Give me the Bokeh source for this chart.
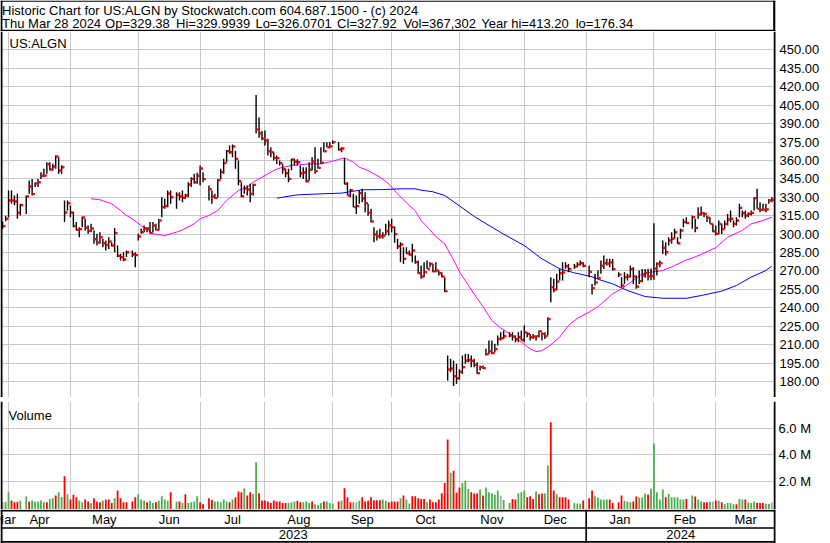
import numpy as np
import pandas as pd
from bokeh.plotting import figure
from bokeh.layouts import column
from bokeh.models import (Range1d, LinearAxis, FixedTicker, Span, Label,
                          ColumnDataSource, NumeralTickFormatter, PrintfTickFormatter)
from bokeh.transform import dodge
from bokeh.core.properties import value
from bokeh.embed import file_html
from bokeh.resources import INLINE

FONT = "Liberation Sans"

# ---------------------------------------------------------------- data
first_day, last_day = "2023-03-29", "2024-03-28"
holidays = ["2023-04-07", "2023-05-29", "2023-06-19", "2023-07-04", "2023-09-04",
            "2023-11-23", "2023-12-25", "2024-01-01", "2024-01-15", "2024-02-19"]

high = [
    310.3, 315.0, 335.5,
    335.5, 331.5, 332.8, 324.7, 331.5, 343.7, 345.0, 342.3, 345.0, 350.5, 353.2, 358.6, 358.6, 357.3, 364.0, 362.7, 356.0, 327.4, 327.4,
    323.3, 318.0, 309.8, 305.7, 314.4, 312.5, 307.0, 308.4, 303.0, 300.3, 301.6, 296.2, 294.8, 297.5, 293.5, 305.1, 290.7, 284.0, 285.3, 286.7, 286.7, 285.3,
    300.3, 304.3, 307.0, 305.7, 309.8, 309.8, 308.4, 312.5, 330.1, 328.8, 335.5, 335.5, 334.2, 334.2, 335.5, 332.8, 342.3, 346.4, 349.1, 350.0, 355.9,
    350.5, 339.6, 335.5, 332.8, 345.0, 353.2, 361.3, 368.6, 372.2, 373.0, 368.0, 360.0, 342.3, 339.6, 339.6, 341.0, 341.0, 413.2, 395.0, 384.0,
    384.4, 377.6, 370.8, 366.7, 364.0, 360.0, 357.2, 353.2, 353.2, 361.3, 361.3, 361.0, 355.9, 354.5, 354.5, 358.6, 362.7, 370.8, 361.3, 370.8, 374.9, 374.9, 374.9,
    376.3, 374.9, 370.8, 362.1, 342.3, 336.9, 332.8, 331.5, 335.5, 336.9, 334.2, 324.7, 320.6, 305.7, 303.0, 304.3, 301.6, 308.4, 311.1, 312.5,
    306.0, 296.2, 293.5, 289.4, 289.4, 286.7, 292.1, 282.6, 278.5, 274.5, 277.2, 278.5, 277.2, 275.8, 277.2, 270.4, 269.0, 265.0, 201.2, 198.5, 197.1, 194.4,
    190.0, 201.2, 202.5, 202.5, 201.2, 198.5, 195.7, 193.0, 193.0, 206.6, 213.4, 213.4, 210.7, 217.5, 220.2, 221.5, 220.2, 220.2, 217.5, 220.2, 221.5,
    225.6, 220.2, 218.8, 218.8, 217.5, 221.5, 220.2, 220.2, 232.4, 265.0, 263.6, 267.7, 271.8, 277.2, 277.2, 275.8, 275.8, 277.2, 278.5, 277.2,
    274.4, 259.5, 267.7, 270.4, 278.5, 282.6, 279.9, 279.9, 279.9, 269.0, 265.0, 269.0, 267.7, 274.4, 273.1, 266.3, 270.4, 271.7, 271.7, 271.8, 272.0,
    308.9, 277.2, 278.5, 294.8, 293.5, 297.5, 301.6, 304.3, 297.5, 304.3, 312.5, 313.8, 315.2, 312.5, 322.0, 322.5, 317.9, 315.2, 313.8, 308.4,
    307.0, 311.1, 308.4, 311.1, 316.5, 319.2, 311.1, 313.8, 324.7, 319.2, 319.2, 317.9, 319.2, 330.1, 336.9, 326.0, 324.7, 324.7, 328.7, 329.99,
]
low = [
    304.3, 310.6, 313.8,
    324.7, 323.6, 312.5, 315.2, 316.5, 332.8, 331.5, 338.3, 338.3, 345.0, 346.4, 349.1, 351.8, 351.8, 353.2, 349.1, 349.0, 309.8, 319.3,
    313.8, 305.7, 303.0, 297.5, 305.7, 303.0, 300.3, 301.6, 292.1, 290.7, 292.1, 289.4, 286.7, 288.0, 290.0, 285.3, 281.3, 278.5, 278.0, 281.3, 281.3, 273.1,
    294.8, 300.3, 301.6, 301.6, 300.3, 301.6, 303.0, 303.0, 313.8, 320.6, 322.0, 324.7, 320.6, 327.4, 326.0, 328.8, 330.1, 338.3, 341.0, 341.0, 339.6,
    342.3, 327.4, 324.7, 328.8, 330.1, 345.0, 349.1, 358.6, 365.4, 362.7, 353.2, 339.6, 330.1, 332.8, 331.5, 326.0, 331.5, 382.0, 378.5, 376.5,
    372.2, 364.0, 362.7, 360.0, 357.2, 355.9, 349.1, 346.4, 342.3, 352.0, 355.9, 355.9, 346.4, 345.0, 342.3, 343.7, 351.8, 349.1, 353.2, 357.2, 366.7, 370.8, 370.0,
    373.5, 368.1, 366.7, 340.4, 331.5, 330.1, 322.0, 316.5, 324.7, 326.0, 317.9, 315.0, 309.5, 293.5, 294.8, 296.2, 296.2, 299.4, 298.9, 301.6,
    293.0, 288.0, 277.2, 275.8, 284.0, 282.6, 277.2, 275.8, 267.7, 263.6, 265.0, 271.7, 273.1, 269.0, 269.0, 266.3, 265.0, 252.7, 180.8, 187.6, 176.34, 178.1,
    181.5, 186.2, 194.4, 195.7, 191.7, 191.7, 186.2, 189.0, 190.3, 201.2, 202.5, 202.5, 203.9, 209.3, 213.4, 214.7, 216.1, 213.4, 212.0, 212.0, 213.4,
    212.0, 216.1, 213.4, 214.7, 213.4, 216.1, 213.4, 214.7, 217.5, 244.6, 252.7, 254.1, 262.2, 262.2, 271.8, 269.0, 271.8, 273.1, 274.5, 273.1,
    265.0, 250.8, 258.1, 263.6, 267.7, 271.7, 274.4, 273.1, 270.4, 265.0, 256.8, 259.5, 262.2, 265.0, 259.5, 255.5, 259.5, 261.0, 264.4, 262.2, 262.5,
    262.8, 266.3, 273.1, 283.9, 282.6, 290.7, 292.1, 296.2, 292.1, 296.2, 305.7, 308.4, 304.3, 301.6, 312.5, 315.2, 313.8, 309.8, 308.4, 301.6,
    298.9, 300.0, 300.2, 304.3, 307.0, 309.7, 305.7, 307.0, 313.8, 313.8, 312.5, 313.8, 315.2, 319.2, 320.6, 317.9, 319.2, 317.9, 324.7, 326.07,
]
close = [
    306.5, 312.5, 327.4,
    327.4, 326.6, 317.4, 323.6, 330.6, 338.8, 332.6, 341.2, 342.3, 347.5, 347.7, 357.0, 352.6, 355.1, 363.2, 351.8, 354.5, 317.6, 325.2,
    317.6, 306.5, 303.5, 304.1, 313.6, 305.4, 302.7, 304.6, 295.9, 293.2, 297.5, 292.6, 291.3, 294.0, 290.7, 300.8, 282.3, 281.3, 279.3, 285.3, 283.4, 282.9,
    298.1, 301.6, 304.6, 304.6, 300.8, 307.0, 303.5, 311.1, 322.0, 322.8, 333.1, 330.1, 332.0, 330.6, 329.6, 331.5, 340.4, 345.0, 342.3, 347.5, 353.5,
    344.8, 336.6, 330.6, 329.3, 344.0, 350.5, 357.8, 367.6, 366.7, 371.4, 361.3, 343.1, 330.9, 337.4, 336.3, 332.8, 340.1, 385.3, 382.0, 377.8,
    376.3, 367.5, 366.7, 362.1, 361.9, 357.8, 352.9, 349.6, 345.0, 360.8, 359.0, 358.6, 349.6, 350.2, 343.1, 352.4, 359.1, 351.3, 354.0, 358.1, 367.5, 370.8, 371.5,
    374.9, 368.9, 369.7, 341.0, 331.5, 335.5, 322.0, 322.8, 333.4, 329.0, 325.2, 317.5, 310.3, 299.7, 298.2, 298.3, 298.9, 302.4, 307.0, 305.7,
    300.0, 290.2, 291.6, 279.9, 284.5, 283.4, 286.7, 277.2, 268.2, 265.5, 269.0, 271.7, 275.8, 269.8, 270.5, 268.2, 265.5, 253.6, 189.8, 190.5, 184.3, 182.7,
    188.0, 191.7, 197.1, 197.5, 196.8, 193.6, 186.8, 191.7, 190.9, 202.3, 204.7, 203.1, 206.3, 214.7, 215.3, 216.9, 217.5, 216.6, 214.2, 216.1, 213.7,
    219.9, 218.8, 216.1, 216.6, 216.9, 221.0, 218.8, 216.9, 230.8, 256.8, 254.9, 261.4, 268.2, 268.8, 273.9, 271.5, 273.6, 275.3, 276.4, 274.2,
    269.3, 256.0, 260.6, 264.1, 274.2, 276.4, 276.0, 277.0, 271.5, 267.1, 258.1, 265.0, 265.5, 271.5, 265.5, 257.3, 261.7, 266.5, 268.5, 265.5, 266.0,
    272.0, 275.8, 276.4, 288.9, 285.3, 294.8, 296.2, 301.6, 292.6, 303.0, 309.8, 309.0, 313.8, 305.1, 316.0, 317.1, 316.5, 313.3, 308.4, 302.4,
    300.2, 308.4, 304.0, 308.4, 311.9, 312.5, 308.4, 311.1, 321.4, 317.1, 315.2, 316.5, 317.3, 329.3, 320.6, 319.8, 320.0, 320.1, 327.4, 327.92,
]
volume_m = [
    0.40, 0.44, 1.16,
    0.52, 0.40, 0.44, 0.52, 0.83, 0.45, 0.52, 0.45, 0.45, 0.52, 0.39, 0.39, 0.65, 0.70, 0.90, 1.16, 0.80, 2.38, 1.00,
    0.60, 0.96, 0.78, 0.52, 0.39, 0.60, 0.45, 0.34, 0.70, 0.45, 0.39, 0.52, 0.60, 0.60, 0.34, 0.70, 1.29, 0.70, 0.39, 0.39, 0.45, 0.78,
    1.00, 0.60, 0.52, 0.39, 0.50, 0.34, 0.39, 0.50, 0.85, 0.60, 0.50, 1.16, 0.45, 0.45, 0.34, 1.00, 0.34, 0.39, 0.45, 0.85, 0.39,
    0.25, 0.70, 0.57, 0.45, 0.45, 0.39, 0.60, 0.45, 0.39, 0.60, 0.78, 1.21, 1.16, 1.46, 0.90, 1.16, 1.03, 3.45, 1.08, 0.52,
    0.52, 0.45, 0.34, 0.52, 0.45, 0.45, 0.34, 0.34, 0.34, 0.39, 0.45, 0.50, 0.39, 0.39, 0.45, 0.34, 0.45, 0.24, 0.19, 0.34, 0.45, 0.45, 0.34,
    0.30, 0.45, 0.52, 1.46, 0.78, 0.39, 0.39, 0.39, 0.50, 0.78, 0.45, 0.50, 0.78, 0.55, 0.55, 0.55, 0.60, 0.50, 0.39, 0.45,
    0.45, 0.45, 0.70, 0.90, 0.60, 0.29, 0.85, 0.85, 0.70, 0.65, 0.65, 0.39, 0.60, 0.39, 0.39, 0.60, 1.08, 1.87, 5.18, 2.64, 2.79, 1.11,
    1.52, 1.87, 2.03, 1.41, 1.16, 1.06, 1.06, 1.36, 0.90, 1.52, 1.16, 1.08, 0.96, 1.29, 0.90, 0.57, 0.34, 0.65, 0.60, 1.08, 1.16,
    1.29, 0.78, 0.85, 0.65, 1.21, 1.00, 1.06, 1.06, 3.20, 6.50, 1.29, 1.00, 0.78, 0.78, 0.78, 0.60, 0.34, 0.29, 0.29, 0.52,
    0.70, 1.29, 0.85, 0.75, 0.60, 0.60, 0.60, 0.60, 0.34, 0.39, 0.90, 0.50, 0.45, 0.39, 0.45, 0.83, 0.75, 0.75, 1.06, 0.98, 1.44,
    4.88, 1.16, 0.60, 1.36, 0.78, 1.03, 0.78, 0.78, 0.78, 0.60, 0.60, 0.65, 0.90, 0.83, 0.60, 0.45, 0.39, 0.39, 0.45, 0.45,
    0.52, 0.50, 0.39, 0.24, 0.34, 0.34, 0.24, 0.24, 0.65, 0.60, 0.60, 0.39, 0.34, 0.45, 0.34, 0.34, 0.34, 0.27, 0.27, 0.37,
]
# volume bar direction per day: g = up, r = down, n = unchanged
vol_dir_by_month = [
    "ngg",                        # Mar 2023
    "rrrggrgggggrggrggrg",        # Apr
    "rrrggrrgrrrgrrrgrrrrrr",     # May
    "gggrggrggggrgrgrggggr",      # Jun
    "rrrgggggrgrrrgrrggrr",       # Jul
    "rrrrrrrrgggrrgggrgggrgg",    # Aug
    "grgrrrgngrrrrrrrggrr",       # Sep
    "rrgrggrrrrrgrrrrrrrgrr",     # Oct
    "rgggrrrgrgggggnggrrgg",      # Nov
    "grrrgrrggrrgrrrrgggr",       # Dec
    "rrgggggrrrrgggrrgggrg",      # Jan 2024
    "ggggrggggggrgrggrrgn",       # Feb
    "rgrggggrggrgggrrrggn",       # Mar
]
vol_dir = list("".join(vol_dir_by_month))

# moving averages (read at sample dates)
ma_fast_dates = ["2023-05-10", "2023-05-15", "2023-05-19", "2023-05-24", "2023-05-26", "2023-05-30",
                 "2023-06-02", "2023-06-06", "2023-06-08", "2023-06-14", "2023-06-20", "2023-06-22",
                 "2023-06-28", "2023-06-30", "2023-07-05", "2023-07-10", "2023-07-13", "2023-07-19",
                 "2023-07-24", "2023-07-26", "2023-08-01", "2023-08-04", "2023-08-08", "2023-08-14",
                 "2023-08-22", "2023-08-28", "2023-09-01", "2023-09-05", "2023-09-07", "2023-09-12",
                 "2023-09-14", "2023-09-19", "2023-09-25", "2023-09-28", "2023-10-03", "2023-10-09",
                 "2023-10-11", "2023-10-13", "2023-10-18", "2023-10-20", "2023-10-25", "2023-10-30",
                 "2023-11-01", "2023-11-06", "2023-11-08", "2023-11-13", "2023-11-16", "2023-11-21",
                 "2023-11-27", "2023-11-30", "2023-12-05", "2023-12-07", "2023-12-11", "2023-12-13",
                 "2023-12-19", "2023-12-22", "2023-12-27", "2024-01-02", "2024-01-05", "2024-01-12",
                 "2024-01-17", "2024-01-23", "2024-01-26", "2024-01-31", "2024-02-06", "2024-02-12",
                 "2024-02-16", "2024-02-20", "2024-02-23", "2024-03-01", "2024-03-07", "2024-03-14",
                 "2024-03-19", "2024-03-25", "2024-03-28"]
ma_fast = [328.8, 328.0, 324.7, 319.3, 315.2, 312.5, 307.0, 304.3, 300.3, 298.9, 301.6, 303.5,
           308.4, 312.5, 315.2, 319.3, 327.4, 335.5, 338.3, 342.3, 347.7, 351.8, 353.8, 355.9,
           357.2, 357.2, 359.5, 360.8, 362.1, 358.6, 354.5, 351.8, 346.4, 341.0, 332.8, 323.3,
           319.0, 311.1, 303.5, 298.0, 292.1, 279.0, 269.5, 258.5, 251.2, 241.0, 229.7, 223.5,
           217.5, 212.0, 206.6, 204.4, 205.2, 208.0, 216.1, 225.6, 231.5, 236.5, 241.0, 251.4,
           255.5, 262.2, 267.7, 269.0, 270.4, 274.4, 279.0, 280.5, 283.5, 289.0, 297.5, 303.0,
           308.4, 311.1, 313.8]
ma_slow_dates = ["2023-08-07", "2023-08-16", "2023-08-28", "2023-09-06", "2023-09-15", "2023-09-26",
                 "2023-10-04", "2023-10-11", "2023-10-13", "2023-10-19", "2023-10-25", "2023-11-01",
                 "2023-11-08", "2023-11-13", "2023-11-16", "2023-11-22", "2023-12-01", "2023-12-11",
                 "2023-12-19", "2023-12-26", "2024-01-03", "2024-01-08", "2024-01-12", "2024-01-19",
                 "2024-01-29", "2024-02-06", "2024-02-16", "2024-02-23", "2024-03-05", "2024-03-12",
                 "2024-03-19", "2024-03-26", "2024-03-28"]
ma_slow = [329.3, 332.0, 332.8, 333.4, 336.1, 336.3, 336.9, 336.9, 335.8, 334.5, 331.5, 323.0,
           314.5, 310.0, 305.7, 300.0, 290.7, 279.9, 271.8, 268.5, 265.3, 262.5, 259.5, 254.1,
           249.2, 247.8, 247.8, 250.0, 253.6, 258.2, 265.0, 270.4, 274.0]

month_labels = ["Mar", "Apr", "May", "Jun", "Jul", "Aug", "Sep", "Oct", "Nov", "Dec", "Jan", "Feb", "Mar"]
year_labels = ["2023", "2024"]
price_ticks = list(range(180, 451, 15))
price_grid = list(range(165, 466, 15))
vol_ticks = [2, 4, 6]

header_line1 = "Historic Chart for US:ALGN by Stockwatch.com 604.687.1500 - (c) 2024"
header_items = ["Thu Mar 28 2024", "Op=329.38", "Hi=329.9939", "Lo=326.0701", "Cl=327.92",
                "Vol=367,302", "Year hi=413.20", "lo=176.34"]
symbol = "US:ALGN"

# ---------------------------------------------------------------- geometry
W = 830
PX_PER_DAY = 2.947
X0_PX = 11.0
FRAME_W = 775
RIGHT = W - FRAME_W


def xi(px):
    return (px - X0_PX) / PX_PER_DAY


base = np.datetime64("2023-04-03")
days = pd.bdate_range(first_day, last_day, freq="C", holidays=holidays)
d64 = days.values.astype("datetime64[D]")
x = np.busday_count(base, d64).astype(float)
n = len(x)
assert len(high) == n and len(low) == n and len(close) == n and len(volume_m) == n and len(vol_dir) == n, \
    (n, len(high), len(low), len(close), len(volume_m), len(vol_dir))

colmap = {"g": "#4CAF50", "r": "#FF0000", "n": "#A8A8A8"}
src = ColumnDataSource(dict(x=x, high=high, low=low, close=close, vol=volume_m,
                            color=[colmap[c] for c in vol_dir]))

fx = np.busday_count(base, np.array(ma_fast_dates, dtype="datetime64[D]")).astype(float)
sx = np.busday_count(base, np.array(ma_slow_dates, dtype="datetime64[D]")).astype(float)

month_starts = pd.date_range("2023-04-01", "2024-03-01", freq="MS").values.astype("datetime64[D]")
grid_idx = np.busday_count(base, np.busday_offset(month_starts, 0, roll="backward")).astype(float)

xr = Range1d(xi(0), xi(FRAME_W))
bounds = [xr.start] + list(grid_idx) + [xr.end]
month_x = [(bounds[i] + bounds[i + 1]) / 2 for i in range(len(month_labels))]
jan_idx = grid_idx[9]
year_bounds = [xr.start, jan_idx, xr.end]
year_x = [(year_bounds[i] + year_bounds[i + 1]) / 2 for i in range(2)]

GRID = "#C8C8C8"


def make_fig(h, xrange, yrange, right):
    f = figure(width=W, height=h, x_range=xrange, y_range=yrange, title=None,
               toolbar_location=None, output_backend="svg",
               x_axis_location=None, y_axis_location=None,
               min_border_left=0, min_border_right=right, min_border_top=0, min_border_bottom=0,
               outline_line_color=None, background_fill_color="white", border_fill_color="white")
    f.xgrid.visible = False
    f.ygrid.visible = False
    return f


def vline(f, loc, w):
    f.add_layout(Span(location=loc, dimension="height", line_color="black", line_width=w))


def hline(f, loc, w):
    f.add_layout(Span(location=loc, dimension="width", line_color="black", line_width=w))


# ---------------------------------------------------------------- header
f_head = make_fig(31, Range1d(0, W), Range1d(31, 0), 0)
hline(f_head, 0.6, 1.2)
hline(f_head, 30.1, 1.8)
vline(f_head, 1.0, 2)
vline(f_head, 828.8, 2.4)
f_head.add_layout(Label(x=1.7, y=9.6, text=header_line1, text_font=FONT, text_font_size="13px",
                        text_baseline="alphabetic", text_color="black"))
for item, px in zip(header_items, [1.7, 112, 188, 273, 360.5, 431.5, 515, 616]):
    f_head.add_layout(Label(x=px, y=23.2, text=item, text_font=FONT, text_font_size="13px",
                            text_baseline="alphabetic", text_color="black"))

# ---------------------------------------------------------------- price panel
f_price = make_fig(366, xr, Range1d(167.0, 465.0), RIGHT)
f_price.xgrid.visible = True
f_price.ygrid.visible = True
f_price.xgrid.ticker = FixedTicker(ticks=list(grid_idx))
f_price.ygrid.ticker = FixedTicker(ticks=price_grid)
f_price.xgrid.grid_line_color = GRID
f_price.ygrid.grid_line_color = GRID

pax = LinearAxis(ticker=FixedTicker(ticks=price_ticks), formatter=NumeralTickFormatter(format="0.00"),
                 axis_line_color=None, major_tick_line_color=None, minor_tick_line_color=None,
                 major_tick_in=0, major_tick_out=0, major_label_standoff=4,
                 major_label_text_font=FONT, major_label_text_font_size="13px",
                 major_label_text_color="black")
f_price.add_layout(pax, "right")

f_price.line(fx, ma_fast, line_color="#FF00FF", line_width=1)
f_price.line(sx, ma_slow, line_color="#0000FF", line_width=1)
f_price.segment(x0="x", y0="low", x1="x", y1="high", source=src, line_color="black", line_width=1.4)
f_price.rect(x=dodge("x", 1.6 / PX_PER_DAY, range=xr), y="close", width=2.4, height=2.4,
             width_units="screen", height_units="screen", source=src,
             fill_color="#FF0000", line_color=None)
f_price.add_layout(Label(x=xi(9), y=455.2, text=symbol, text_font=FONT, text_font_size="13px",
                         text_baseline="alphabetic", text_color="black"))
vline(f_price, xi(1), 2)
vline(f_price, xi(774.5), 2.5)

# ---------------------------------------------------------------- separator
f_sep = make_fig(4, Range1d(0, W), Range1d(4, 0), 0)
hline(f_sep, 0.5, 1)
hline(f_sep, 3.0, 1.5)
vline(f_sep, 1.0, 2)
vline(f_sep, 774.5, 2.5)

# ---------------------------------------------------------------- volume panel
vol_range = Range1d(-0.16, 8.08)
f_vol = make_fig(108, xr, vol_range, RIGHT)
f_vol.xgrid.visible = True
f_vol.ygrid.visible = True
f_vol.xgrid.ticker = FixedTicker(ticks=list(grid_idx))
f_vol.ygrid.ticker = FixedTicker(ticks=vol_ticks)
f_vol.xgrid.grid_line_color = GRID
f_vol.ygrid.grid_line_color = GRID
vax = LinearAxis(ticker=FixedTicker(ticks=vol_ticks), formatter=PrintfTickFormatter(format="%.1f M"),
                 axis_line_color=None, major_tick_line_color=None, minor_tick_line_color=None,
                 major_tick_in=0, major_tick_out=0, major_label_standoff=3,
                 major_label_text_font=FONT, major_label_text_font_size="13px",
                 major_label_text_color="black")
f_vol.add_layout(vax, "right")
f_vol.vbar(x="x", top="vol", bottom=vol_range.start, width=1.8 / PX_PER_DAY, source=src,
           fill_color="color", line_color=None)
f_vol.add_layout(Label(x=xi(8), y=7.05, text="Volume", text_font=FONT, text_font_size="13px",
                       text_baseline="alphabetic", text_color="black"))
vline(f_vol, xi(1), 2)
vline(f_vol, xi(774.5), 2.5)

# ---------------------------------------------------------------- date axis strip
f_axis = make_fig(34, xr, Range1d(34, 0), RIGHT)
hline(f_axis, 1.1, 1.8)
hline(f_axis, 18.5, 1.6)
hline(f_axis, 32.4, 1.8)
vline(f_axis, xi(1), 2)
vline(f_axis, xi(774.5), 2.5)
f_axis.add_layout(Span(location=jan_idx, dimension="height", line_color="black", line_width=1.6))
f_axis.text(x=month_x, y=10.4, text=month_labels, text_font=value(FONT), text_font_size="13px",
            text_align="center", text_baseline="alphabetic", text_color="black")
f_axis.text(x=year_x, y=25.4, text=year_labels, text_font=value(FONT), text_font_size="13px",
            text_align="center", text_baseline="alphabetic", text_color="black")

layout = column(f_head, f_price, f_sep, f_vol, f_axis, spacing=0)

open("out.html", "w").write(file_html(layout, INLINE))
